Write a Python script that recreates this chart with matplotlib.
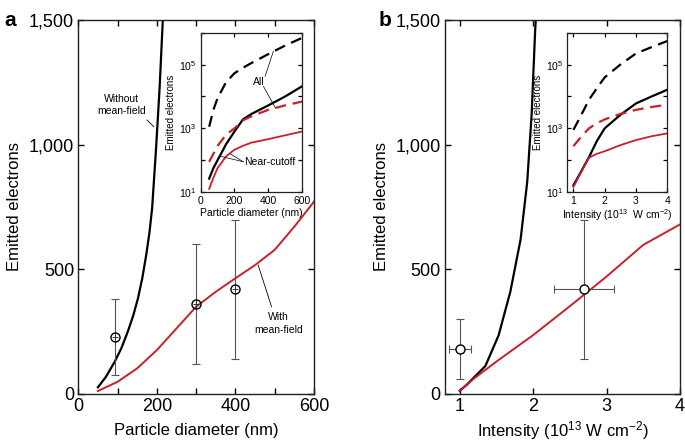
import numpy as np
import matplotlib
matplotlib.use("Agg")
import matplotlib.pyplot as plt
from matplotlib.ticker import FixedLocator, FixedFormatter, NullLocator

plt.rcParams['font.family'] = ['Liberation Sans', 'DejaVu Sans']
plt.rcParams['mathtext.default'] = 'regular'

RED = '#c8202a'

# ---- panel a: main curves (particle diameter, nm) ----
diam_nomf = [50, 70, 93, 110, 126, 140, 152, 163, 173, 181, 188, 198, 207, 215, 221]
elec_nomf = [27, 68, 130, 185, 250, 315, 384, 465, 558, 645, 745, 985, 1226, 1493, 1720]
diam_mf = [50, 100, 150, 200, 250, 300, 350, 400, 450, 500, 550, 600]
elec_mf = [12, 49, 103, 176, 263, 350, 410, 464, 517, 578, 671, 771]

# measured points, panel a
diam_exp = [93, 300, 400]
elec_exp_a = [230, 360, 420]
elec_lo_a = [76, 120, 140]
elec_hi_a = [381, 600, 698]

# ---- panel a inset (log10 of emitted electrons) ----
diam_in = [50, 75, 100, 150, 200, 250, 300, 400, 500, 600]
log_all_nomf = [3.05, 3.58, 3.95, 4.45, 4.73, 4.9, 5.05, 5.33, 5.6, 5.84]
log_all_mf = [1.42, 1.75, 2.0, 2.5, 2.9, 3.28, 3.45, 3.72, 4.0, 4.32]
log_cut_nomf = [1.95, 2.2, 2.45, 2.8, 3.0, 3.25, 3.38, 3.58, 3.72, 3.84]
log_cut_mf = [1.1, 1.45, 1.75, 2.12, 2.33, 2.45, 2.55, 2.66, 2.78, 2.9]

# ---- panel b: main curves (intensity, 1e13 W/cm2) ----
int_nomf = [1.0, 1.1, 1.2, 1.35, 1.53, 1.69, 1.83, 1.92, 1.98, 2.03, 2.07]
elec_nomf_b = [13, 38, 68, 112, 235, 410, 620, 850, 1120, 1470, 1650]
int_mf = [1.0, 1.2, 1.5, 2.0, 2.5, 3.0, 3.5, 4.0]
elec_mf_b = [13, 63, 130, 236, 352, 471, 598, 680]

# measured points, panel b
int_exp = [1.0, 2.7]
int_lo = [0.85, 2.29]
int_hi = [1.15, 3.1]
elec_exp_b = [180, 420]
elec_lo_b = [60, 140]
elec_hi_b = [300, 698]

# ---- panel b inset ----
int_in = [1.0, 1.25, 1.5, 1.75, 2.0, 2.5, 3.0, 3.5, 4.0]
logb_all_nomf = [2.95, 3.42, 3.9, 4.26, 4.6, 5.0, 5.35, 5.55, 5.74]
logb_all_mf = [1.21, 1.65, 2.1, 2.6, 3.0, 3.42, 3.78, 4.0, 4.21]
logb_cut_nomf = [2.44, 2.74, 3.0, 3.16, 3.28, 3.45, 3.58, 3.67, 3.74]
logb_cut_mf = [1.16, 1.63, 2.08, 2.2, 2.28, 2.47, 2.63, 2.75, 2.84]

fig = plt.figure(figsize=(6.85, 4.46), dpi=100)
ax_a = fig.add_axes([0.1143, 0.1166, 0.344, 0.8386])
ax_b = fig.add_axes([0.6496, 0.1166, 0.343, 0.8386])
in_a = fig.add_axes([0.293, 0.5695, 0.148, 0.357])
in_b = fig.add_axes([0.828, 0.5695, 0.146, 0.357])


def style_axes(ax, size, lw=1.0, length=4):
    ax.tick_params(direction='in', top=True, right=True, length=length,
                   width=lw, labelsize=size, pad=3)
    for s in ax.spines.values():
        s.set_linewidth(lw)
        s.set_color('#222222')


# ---------- panel a ----------
ax = ax_a
ax.plot(diam_nomf, elec_nomf, color='black', lw=1.6)
ax.plot(diam_mf, elec_mf, color=RED, lw=1.4)
err = [np.array(elec_exp_a) - np.array(elec_lo_a), np.array(elec_hi_a) - np.array(elec_exp_a)]
ax.errorbar(diam_exp, elec_exp_a, yerr=err, fmt='none', ecolor='#555555',
            elinewidth=0.8, capsize=3, capthick=0.8)
ax.plot(diam_exp, elec_exp_a, 'o', ms=6.5, mfc='none', mec='black', mew=1.0)
ax.plot(diam_exp, elec_exp_a, '+', ms=5, color='#333333', mew=0.7)
ax.set_xlim(0, 600)
ax.set_ylim(0, 1500)
ax.xaxis.set_major_locator(FixedLocator([0, 100, 200, 300, 400, 500, 600]))
ax.xaxis.set_major_formatter(FixedFormatter(['0', '', '200', '', '400', '', '600']))
ax.yaxis.set_major_locator(FixedLocator([0, 500, 1000, 1500]))
ax.yaxis.set_major_formatter(FixedFormatter(['0', '500', '1,000', '1,500']))
style_axes(ax, 13)
ax.set_xlabel('Particle diameter (nm)', fontsize=12, labelpad=6)
ax.set_ylabel('Emitted electrons', fontsize=12, labelpad=5)
ax.text(110, 1159, 'Without\nmean-field', fontsize=7.5, ha='center', va='center',
        linespacing=1.3)
ax.plot([175, 192], [1099, 1072], color='black', lw=0.6)
ax.text(509, 283, 'With\nmean-field', fontsize=7.5, ha='center', va='center',
        linespacing=1.3)
ax.plot([458, 492], [517, 350], color='black', lw=0.6)
fig.text(0.007, 0.975, 'a', fontsize=15, fontweight='bold', va='top')

# ---------- panel a inset ----------
ax = in_a
ax.set_yscale('log')
ax.plot(diam_in, np.power(10.0, log_all_nomf), color='black', lw=1.6, dashes=(5, 3))
ax.plot(diam_in, np.power(10.0, log_all_mf), color='black', lw=1.6)
ax.plot(diam_in, np.power(10.0, log_cut_nomf), color=RED, lw=1.6, dashes=(5, 3))
ax.plot(diam_in, np.power(10.0, log_cut_mf), color=RED, lw=1.3)
ax.set_xlim(0, 600)
ax.set_ylim(10, 1e6)
ax.xaxis.set_major_locator(FixedLocator([0, 200, 400, 600]))
ax.yaxis.set_major_locator(FixedLocator([1e1, 1e2, 1e3, 1e4, 1e5, 1e6]))
ax.yaxis.set_major_formatter(FixedFormatter(['10$^1$', '', '10$^3$', '', '10$^5$', '']))
ax.yaxis.set_minor_locator(NullLocator())
style_axes(ax, 7.5, lw=0.9, length=3)
ax.set_xlabel('Particle diameter (nm)', fontsize=7.5, labelpad=1)
ax.set_ylabel('Emitted electrons', fontsize=7, labelpad=2)
ax.text(341, 10 ** 4.47, 'All', fontsize=7.5, ha='center', va='center')
ax.plot([381, 430], [10 ** 4.63, 10 ** 5.42], color='black', lw=0.5)
ax.plot([371, 440], [10 ** 4.32, 10 ** 3.66], color='black', lw=0.5)
ax.text(258, 10 ** 1.95, 'Near-cutoff', fontsize=7.5, ha='left', va='center')
ax.plot([252, 118], [10 ** 1.95, 10 ** 2.12], color='black', lw=0.5)
ax.plot([252, 175], [10 ** 1.95, 10 ** 2.2], color='black', lw=0.5)

# ---------- panel b ----------
ax = ax_b
ax.plot(int_nomf, elec_nomf_b, color='black', lw=1.6)
ax.plot(int_mf, elec_mf_b, color=RED, lw=1.4)
yerr = [np.array(elec_exp_b) - np.array(elec_lo_b), np.array(elec_hi_b) - np.array(elec_exp_b)]
xerr = [np.array(int_exp) - np.array(int_lo), np.array(int_hi) - np.array(int_exp)]
ax.errorbar(int_exp, elec_exp_b, xerr=xerr, yerr=yerr, fmt='none', ecolor='#555555',
            elinewidth=0.8, capsize=3, capthick=0.8)
ax.plot(int_exp, elec_exp_b, 'o', ms=6.5, mfc='white', mec='black', mew=1.0)
ax.set_xlim(0.8, 4)
ax.set_ylim(0, 1500)
ax.xaxis.set_major_locator(FixedLocator([1, 2, 3, 4]))
ax.yaxis.set_major_locator(FixedLocator([0, 500, 1000, 1500]))
ax.yaxis.set_major_formatter(FixedFormatter(['0', '500', '1,000', '1,500']))
style_axes(ax, 13)
ax.set_xlabel('Intensity (10$^{13}$ W cm$^{\u2212 2}$)', fontsize=12, labelpad=3)
ax.set_ylabel('Emitted electrons', fontsize=12, labelpad=5)
fig.text(0.552, 0.975, 'b', fontsize=15, fontweight='bold', va='top')

# ---------- panel b inset ----------
ax = in_b
ax.set_yscale('log')
ax.plot(int_in, np.power(10.0, logb_all_nomf), color='black', lw=1.6, dashes=(5, 3))
ax.plot(int_in, np.power(10.0, logb_all_mf), color='black', lw=1.6)
ax.plot(int_in, np.power(10.0, logb_cut_nomf), color=RED, lw=1.6, dashes=(5, 3))
ax.plot(int_in, np.power(10.0, logb_cut_mf), color=RED, lw=1.3)
ax.set_xlim(0.8, 4)
ax.set_ylim(10, 1e6)
ax.xaxis.set_major_locator(FixedLocator([1, 2, 3, 4]))
ax.yaxis.set_major_locator(FixedLocator([1e1, 1e2, 1e3, 1e4, 1e5, 1e6]))
ax.yaxis.set_major_formatter(FixedFormatter(['10$^1$', '', '10$^3$', '', '10$^5$', '']))
ax.yaxis.set_minor_locator(NullLocator())
style_axes(ax, 7.5, lw=0.9, length=3)
ax.set_xlabel('Intensity (10$^{13}$  W cm$^{\u2212 2}$)', fontsize=7.5, labelpad=1)
ax.set_ylabel('Emitted electrons', fontsize=7, labelpad=2)

fig.savefig('out.png', dpi=100)
